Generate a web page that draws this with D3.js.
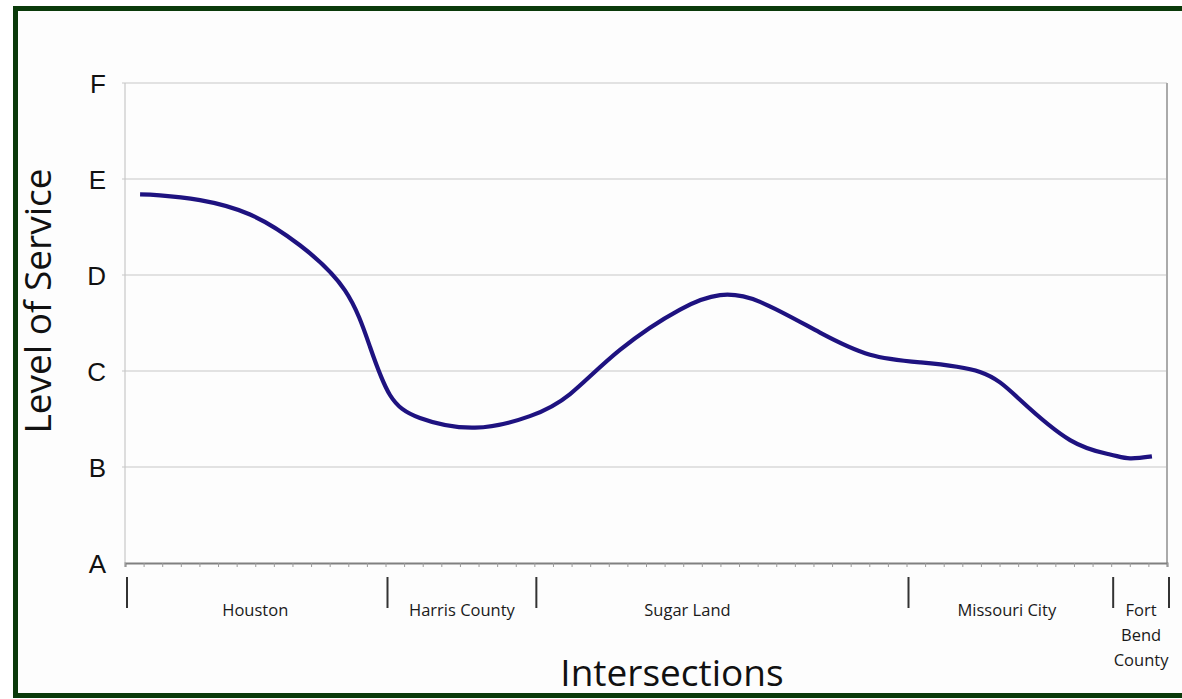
<!DOCTYPE html>
<html>
<head>
<meta charset="utf-8">
<script src="https://cdn.jsdelivr.net/npm/d3@7"></script>
<style>
  body { margin: 0; background: #fff; }
  svg { display: block; font-family: "Open Sans", sans-serif; }
</style>
</head>
<body>
<div id="chart"></div>
<script>
"use strict";

// Level of service grades, A (best) at the bottom to F at the top.
const levels = ["A", "B", "C", "D", "E", "F"];

// Jurisdiction sections along the intersection axis (start / end index).
const sectionNames = ["Houston", "Harris County", "Sugar Land", "Missouri City", "Fort\nBend\nCounty"];
const sectionBounds = [0, 14, 22, 42, 53, 56];
const intersectionCount = 56;

// Curve: intersection index and level (0 = A ... 5 = F).
const curveX = [0.81, 1.88, 4.03, 6.72, 9.40, 11.82, 13.17, 14.24, 15.85, 18.81, 21.76, 23.92,
                26.60, 29.83, 31.98, 34.13, 37.35, 40.04, 42.73, 45.95, 48.10, 50.79, 52.94, 54.01, 55.19];
const curveLos = [3.84, 3.83, 3.78, 3.63, 3.31, 2.84, 2.25, 1.75, 1.51, 1.41, 1.53, 1.76,
                  2.22, 2.64, 2.79, 2.72, 2.40, 2.17, 2.09, 1.99, 1.70, 1.28, 1.13, 1.09, 1.11];

// Label nudges (px) so each name sits where the original put it.
const labelShift = [-2, 0, -35, -4, 0];

const W = 1182, H = 699;
const margin = {top: 83, right: 15, bottom: 136, left: 125};
const innerW = W - margin.left - margin.right;
const innerH = H - margin.top - margin.bottom;

const svg = d3.select("#chart").append("svg")
    .attr("width", W)
    .attr("height", H);

// Page background and dark green frame.
svg.append("rect")
    .attr("x", 0).attr("y", 0).attr("width", W).attr("height", H)
    .style("fill", "#ffffff");
svg.append("rect")
    .attr("x", 15.5).attr("y", 8.5).attr("width", W + 20).attr("height", 687)
    .style("fill", "#fdfdfd")
    .style("stroke", "#0a3a0a")
    .style("stroke-width", 5);

const g = svg.append("g")
    .attr("transform", "translate(" + margin.left + "," + margin.top + ")");

const x = d3.scaleLinear().domain([0, intersectionCount]).range([0, innerW]);
const y = d3.scaleLinear().domain([0, levels.length - 1]).range([innerH, 0]);

// Horizontal gridlines at each grade.
g.selectAll(".grid")
    .data(d3.range(1, levels.length))
    .enter().append("line")
    .attr("class", "grid")
    .attr("x1", -3).attr("x2", innerW)
    .attr("y1", d => y(d)).attr("y2", d => y(d))
    .style("stroke", "#c8c8c8")
    .style("stroke-width", 1.2);

// Plot box: left and right sides.
g.append("line")
    .attr("x1", 0).attr("x2", 0).attr("y1", 0).attr("y2", innerH)
    .style("stroke", "#c8c8c8").style("stroke-width", 1.2);
g.append("line")
    .attr("x1", innerW).attr("x2", innerW).attr("y1", 0).attr("y2", innerH)
    .style("stroke", "#aaaaaa").style("stroke-width", 2);

// Y axis grade labels.
const yAxis = d3.axisLeft(y)
    .tickValues(d3.range(levels.length))
    .tickFormat(d => levels[d])
    .tickSize(0)
    .tickPadding(19);
const yg = g.append("g").call(yAxis);
yg.select(".domain").remove();
yg.selectAll("text")
    .style("font-size", "26px")
    .style("fill", "#111")
    .attr("dy", "0.36em");

// X axis with one small tick per intersection.
const xAxis = d3.axisBottom(x)
    .tickValues(d3.range(0, intersectionCount + 1))
    .tickSize(4)
    .tickFormat("");
const xg = g.append("g")
    .attr("transform", "translate(0," + innerH + ")")
    .call(xAxis);
xg.select(".domain").style("stroke", "#808080").style("stroke-width", 2);
xg.selectAll(".tick line").style("stroke", "#9a9a9a");

// Section separators.
g.selectAll(".sep")
    .data(sectionBounds)
    .enter().append("line")
    .attr("class", "sep")
    .attr("x1", d => x(d) + 2).attr("x2", d => x(d) + 2)
    .attr("y1", innerH + 14).attr("y2", innerH + 45)
    .style("stroke", "#333")
    .style("stroke-width", 2);

// Section labels between separators.
const labels = g.selectAll(".section_label")
    .data(sectionNames)
    .enter().append("text")
    .attr("class", "section_label")
    .attr("text-anchor", "middle")
    .style("font-size", "16.5px")
    .style("font-weight", "500")
    .style("fill", "#1a1a1a")
    .attr("transform", (d, i) => {
        let cx = (x(sectionBounds[i]) + x(sectionBounds[i + 1])) / 2 + 2 + labelShift[i];
        return "translate(" + cx + "," + (innerH + 53) + ")";
    });
labels.selectAll("tspan")
    .data(d => d.split("\n"))
    .enter().append("tspan")
    .attr("x", 0)
    .attr("dy", (d, i) => i === 0 ? 0 : 25)
    .text(d => d);

// The level of service curve.
const pts = curveX.map((d, i) => [d, curveLos[i]]);
const line = d3.line()
    .x(d => x(d[0]))
    .y(d => y(d[1]))
    .curve(d3.curveNatural);
g.append("path")
    .datum(pts)
    .attr("d", line)
    .style("fill", "none")
    .style("stroke", "#1e1280")
    .style("stroke-width", 4.2)
    .style("stroke-linecap", "butt");

// Axis titles.
svg.append("text")
    .attr("transform", "translate(51,301) rotate(-90)")
    .attr("text-anchor", "middle")
    .style("font-size", "37px")
    .style("fill", "#111")
    .text("Level of Service");
svg.append("text")
    .attr("x", 672).attr("y", 686)
    .attr("text-anchor", "middle")
    .style("font-size", "37px")
    .style("fill", "#111")
    .text("Intersections");
</script>
</body>
</html>
